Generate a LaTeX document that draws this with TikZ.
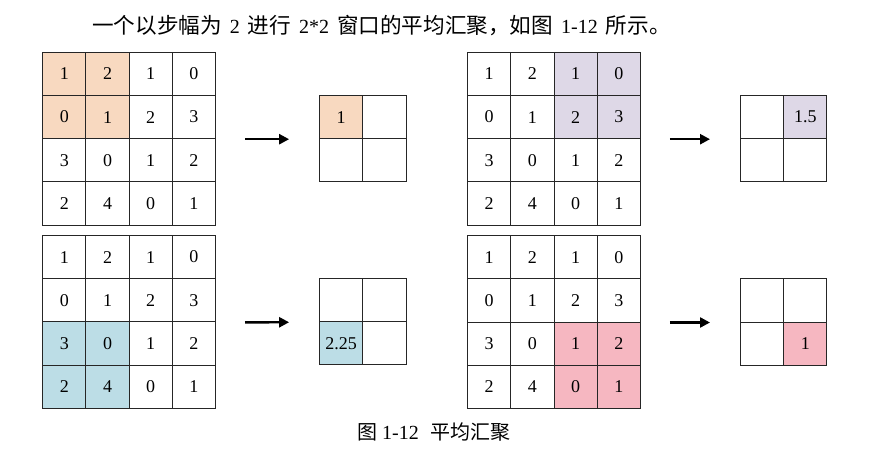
\documentclass[tikz,border=0pt]{standalone}
\usepackage{fontspec}
\setmainfont{Liberation Serif}
\newfontfamily\cjk{Noto Sans CJK SC}
\usetikzlibrary{arrows.meta,backgrounds}
\definecolor{peach}{RGB}{248,217,192}
\definecolor{lilac}{RGB}{222,216,231}
\definecolor{iceblue}{RGB}{188,221,230}
\definecolor{rosepink}{RGB}{246,183,193}
\newcommand{\gap}{\hspace{8pt}}
\newcommand{\hz}{\cjk\fontsize{21.6}{21.6}\selectfont}
\tikzset{every picture/.style={line width=0.75pt}}
\tikzset{
  cell/.style={draw=black!85, line width=1pt, minimum size=43.2pt, inner sep=0pt,
    font=\fontsize{18}{18}\selectfont},
  poolarrow/.style={-{Triangle[length=10pt,width=10pt]}, line width=2.4pt,
    shorten <=29pt, shorten >=30pt}
}

\begin{document}
\begin{tikzpicture}[x=1pt,y=-1pt]
\useasboundingbox (0,0) rectangle (894,452);
%
\node[font=\fontsize{20}{20}\selectfont] (head) at (381.5,25.5)
  {{\hz 一个以步幅为}\gap 2\gap{\hz 进行}\gap 2*2\gap{\hz 窗口的平均汇聚，如图}\gap 1-12\gap{\hz 所示。}};
%
% input maps
\foreach \g/\cx/\cy in {1/129.1/138.7, 2/554/138.7, 3/129.1/321.9, 4/554/322}
  \foreach \r/\a/\b/\c/\d in {1/1/2/1/0, 2/0/1/2/3, 3/3/0/1/2, 4/2/4/0/1}
    \foreach \col/\v in {1/\a, 2/\b, 3/\c, 4/\d}
      \node[cell] (in\g-\r\col) at ({\cx+(\col-2.5)*43.2},{\cy+(\r-2.5)*43.2}) {\v};
%
% pooled maps
\foreach \g/\cx/\cy in {1/362.8/138.7, 2/783.7/138.7, 3/362.8/321.7, 4/783.7/322}
  \foreach \r in {1,2}
    \foreach \col in {1,2}
      \node[cell] (out\g-\r\col) at ({\cx+(\col-1.5)*43.2},{\cy+(\r-1.5)*43.2}) {};
%
\node[font=\fontsize{18}{18}\selectfont] (v1) at (out1-11) {1};
\node[font=\fontsize{18}{18}\selectfont] (v2) at (out2-12) {1.5};
\node[font=\fontsize{18}{18}\selectfont] (v3) at (out3-21) {2.25};
\node[font=\fontsize{18}{18}\selectfont] (v4) at (out4-22) {1};
%
% windows
\begin{scope}[on background layer]
\fill[peach] (in1-11.north west) rectangle (in1-22.south east);
\fill[peach] (out1-11.north west) rectangle (out1-11.south east);
\fill[lilac] (in2-13.north west) rectangle (in2-24.south east);
\fill[lilac] (out2-12.north west) rectangle (out2-12.south east);
\fill[iceblue] (in3-31.north west) rectangle (in3-42.south east);
\fill[iceblue] (out3-21.north west) rectangle (out3-21.south east);
\fill[rosepink] (in4-33.north west) rectangle (in4-44.south east);
\fill[rosepink] (out4-22.north west) rectangle (out4-22.south east);
\end{scope}
%
\foreach \Source/\Target in {%
	in1-24.south east/out1-11.south west,
	in2-24.south east/out2-11.south west,
	in3-24.south east/out3-11.south west,
	in4-24.south east/out4-11.south west%
    }
\draw[poolarrow] (\Source) -- (\Target);
%
\node[font=\fontsize{20}{20}\selectfont] (caption) at (434,432)
  {{\cjk 图} 1-12\hspace{12pt}{\cjk 平均汇聚}};
\end{tikzpicture}
\end{document}
